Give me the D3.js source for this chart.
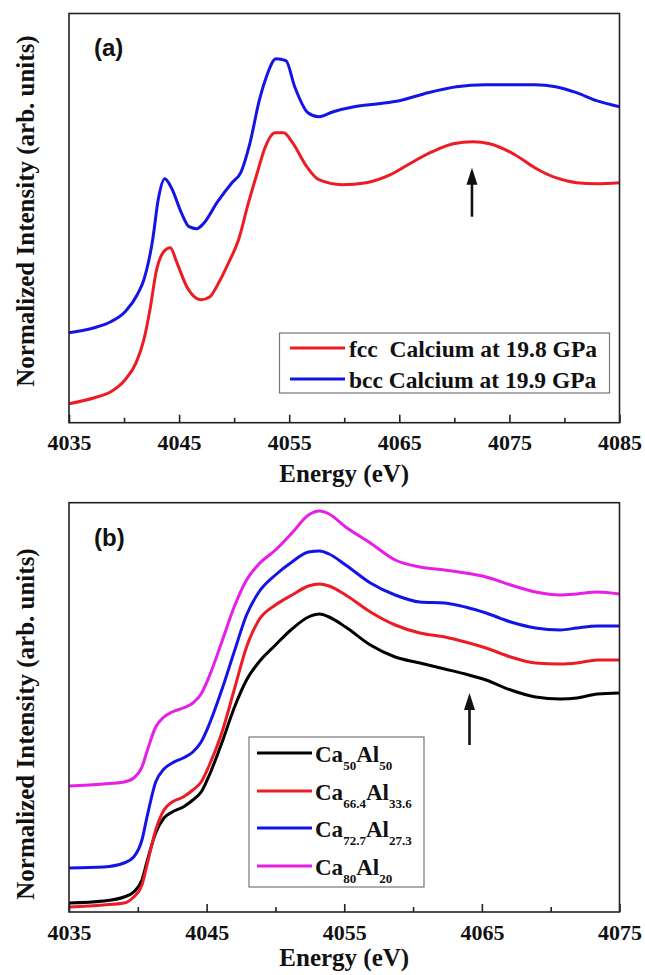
<!DOCTYPE html>
<html>
<head>
<meta charset="utf-8">
<script src="https://cdn.jsdelivr.net/npm/d3@7/dist/d3.min.js"></script>
<style>
  html, body { margin: 0; padding: 0; background: #fff; }
  svg { display: block; }
  .serif { font-family: "Liberation Serif", "Times New Roman", Times, "DejaVu Serif", serif; font-weight: bold; }
  .sans { font-family: "Liberation Sans", Arial, Helvetica, sans-serif; font-weight: bold; }
</style>
</head>
<body>
<svg id="chart" width="645" height="975"></svg>
<script>
// ---------------- DATA ----------------
// Panel (a): energy (eV) and normalized intensity (arb. units)
const aFccEnergy = [4035, 4037.3, 4038.8, 4040.1, 4041.1, 4041.8, 4042.4, 4042.9, 4043.6, 4044.2, 4044.8, 4045.7, 4046.5, 4047.0, 4047.8, 4048.5, 4049.5, 4050.4, 4051.3, 4052.1, 4052.8, 4053.7, 4054.5, 4055.3, 4056.6, 4057.7, 4059.8, 4062.0, 4064.2, 4066.1, 4068.0, 4069.9, 4071.7, 4073.2, 4075.5, 4077.3, 4079.2, 4081.1, 4082.9, 4085];
const aFccValues = [0.19, 0.25, 0.31, 0.43, 0.60, 0.83, 1.16, 1.50, 1.71, 1.75, 1.60, 1.36, 1.25, 1.23, 1.26, 1.38, 1.60, 1.83, 2.20, 2.50, 2.75, 2.90, 2.90, 2.80, 2.56, 2.43, 2.38, 2.40, 2.48, 2.60, 2.71, 2.79, 2.81, 2.79, 2.68, 2.55, 2.45, 2.40, 2.39, 2.40];

const aBccEnergy = [4035, 4037.3, 4038.8, 4040.1, 4041.2, 4041.8, 4042.6, 4043.1, 4043.7, 4044.3, 4045.2, 4045.9, 4046.6, 4047.2, 4048.5, 4049.8, 4050.6, 4051.4, 4052.3, 4052.9, 4053.8, 4054.7, 4055.5, 4056.7, 4057.7, 4059.0, 4060.9, 4063.1, 4065.0, 4067.6, 4070.2, 4072.8, 4077.3, 4079.2, 4081.1, 4082.9, 4085];
const aBccValues = [0.90, 0.95, 1.01, 1.11, 1.28, 1.43, 1.83, 2.23, 2.44, 2.35, 2.10, 1.96, 1.94, 1.99, 2.21, 2.40, 2.50, 2.78, 3.23, 3.45, 3.64, 3.62, 3.36, 3.10, 3.06, 3.11, 3.16, 3.19, 3.22, 3.30, 3.36, 3.38, 3.38, 3.36, 3.30, 3.22, 3.16];

const aSeriesNames = ["fcc  Calcium at 19.8 GPa", "bcc Calcium at 19.9 GPa"];
const aColors = ["#ec1c24", "#1414e6"];

// Panel (b)
const bEnergy = [4035, 4037.5, 4039.0, 4039.7, 4040.3, 4040.7, 4041.3, 4041.9, 4042.5, 4043.3, 4044.0, 4044.6, 4045.2, 4046.1, 4047.0, 4047.9, 4048.8, 4050.0, 4051.2, 4052.4, 4053.2, 4053.9, 4055.1, 4056.9, 4058.7, 4060.5, 4062.3, 4063.8, 4065.3, 4067.1, 4068.9, 4070.7, 4071.9, 4073.4, 4075];
const bCa50 = [0.09, 0.11, 0.15, 0.20, 0.32, 0.52, 0.79, 0.94, 1.00, 1.05, 1.12, 1.20, 1.37, 1.69, 2.04, 2.32, 2.50, 2.67, 2.83, 2.95, 2.98, 2.95, 2.85, 2.67, 2.55, 2.49, 2.43, 2.38, 2.32, 2.22, 2.15, 2.13, 2.14, 2.18, 2.19];
const bCa66 = [0.05, 0.07, 0.09, 0.15, 0.27, 0.49, 0.82, 1.02, 1.10, 1.15, 1.22, 1.30, 1.47, 1.79, 2.22, 2.65, 2.92, 3.07, 3.17, 3.26, 3.28, 3.26, 3.17, 3.00, 2.87, 2.79, 2.75, 2.70, 2.64, 2.55, 2.49, 2.48, 2.49, 2.52, 2.52];
const bCa72 = [0.44, 0.45, 0.49, 0.55, 0.72, 0.97, 1.30, 1.43, 1.49, 1.54, 1.60, 1.70, 1.88, 2.22, 2.60, 2.97, 3.20, 3.37, 3.50, 3.60, 3.61, 3.58, 3.47, 3.29, 3.17, 3.10, 3.09, 3.05, 2.99, 2.90, 2.84, 2.82, 2.84, 2.86, 2.86];
const bCa80 = [1.26, 1.28, 1.30, 1.34, 1.45, 1.62, 1.85, 1.95, 2.00, 2.04, 2.09, 2.18, 2.36, 2.70, 3.05, 3.32, 3.48, 3.62, 3.79, 3.97, 4.01, 3.98, 3.85, 3.69, 3.52, 3.45, 3.42, 3.39, 3.35, 3.27, 3.20, 3.17, 3.18, 3.20, 3.18];

const bSeriesNames = [["50", "50"], ["66.4", "33.6"], ["72.7", "27.3"], ["80", "20"]];
const bColors = ["#000000", "#ec1c24", "#1414e6", "#e61ee6"];

// tick labels
const aTicks = [4035, 4045, 4055, 4065, 4075, 4085];
const aMinorTicks = [4040, 4050, 4060, 4070, 4080];
const bTicks = [4035, 4045, 4055, 4065, 4075];
const bMinorTicks = [4040, 4050, 4060, 4070];

// arrows (energy, tail value, tip value)
const aArrow = [4071.6, 2.06, 2.55];
const bArrow = [4064.1, 1.67, 2.19];

const xLabel = "Energy (eV)";
const yLabel = "Normalized Intensity (arb. units)";

// ---------------- DRAW ----------------
const svg = d3.select("#chart");

function panel(cfg) {
  const x = d3.scaleLinear().domain(cfg.xDomain).range([cfg.left, cfg.right]);
  const y = d3.scaleLinear().domain([0, cfg.yMax]).range([cfg.bottom, cfg.top]);
  const g = svg.append("g");

  const line = d3.line().x(d => x(d[0])).y(d => y(d[1])).curve(d3.curveMonotoneX);
  cfg.series.forEach(s => {
    g.append("path")
      .datum(d3.zip(s.energy, s.values))
      .attr("d", line)
      .attr("fill", "none")
      .attr("stroke", s.color)
      .attr("stroke-width", 3)
      .attr("stroke-linejoin", "round");
  });

  // frame
  g.append("rect")
    .attr("x", cfg.left).attr("y", cfg.top)
    .attr("width", cfg.right - cfg.left).attr("height", cfg.bottom - cfg.top)
    .attr("fill", "none").attr("stroke", "#222").attr("stroke-width", 1.6);

  // major ticks + labels
  const ax = g.append("g").attr("transform", `translate(0,${cfg.bottom})`)
    .call(d3.axisBottom(x).tickValues(cfg.ticks).tickFormat(d3.format("d")).tickSizeInner(-8).tickSizeOuter(0));
  ax.attr("font-family", null).attr("font-size", null);
  ax.select(".domain").remove();
  ax.selectAll(".tick line").attr("stroke", "#222").attr("stroke-width", 1.6);
  ax.selectAll(".tick text")
    .attr("class", "serif").style("font-size", "22px")
    .attr("fill", "#111").attr("dy", null).attr("y", cfg.tickBaseline - cfg.bottom);

  const mx = g.append("g").attr("transform", `translate(0,${cfg.bottom})`)
    .call(d3.axisBottom(x).tickValues(cfg.minor).tickFormat("").tickSizeInner(-5).tickSizeOuter(0));
  mx.select(".domain").remove();
  mx.selectAll(".tick line").attr("stroke", "#222").attr("stroke-width", 1.6);

  // axis titles
  g.append("text")
    .attr("class", "serif").style("font-size", "25px")
    .attr("x", (cfg.left + cfg.right) / 2).attr("y", cfg.xTitleBaseline)
    .attr("text-anchor", "middle")
    .attr("fill", "#111").text(xLabel);
  g.append("text")
    .attr("class", "serif").style("font-size", "25px")
    .attr("transform", `translate(${33.5},${cfg.yTitleCenter}) rotate(-90)`)
    .attr("text-anchor", "middle")
    .attr("fill", "#111").text(yLabel);

  // panel label
  g.append("text")
    .attr("class", "sans").style("font-size", "24px")
    .attr("x", cfg.left + 25).attr("y", cfg.top + cfg.labelDy)
    .attr("fill", "#111").text(cfg.label);

  // arrow
  const ax0 = x(cfg.arrow[0]), yTail = y(cfg.arrow[1]), yTip = y(cfg.arrow[2]);
  g.append("line")
    .attr("x1", ax0).attr("x2", ax0).attr("y1", yTail).attr("y2", yTip + 14)
    .attr("stroke", "#111").attr("stroke-width", 2.6);
  g.append("path")
    .attr("d", `M${ax0},${yTip} L${ax0 - 5.5},${yTip + 17} L${ax0 + 5.5},${yTip + 17} Z`)
    .attr("fill", "#111");

  return { x, y, g };
}

// Panel (a)
panel({
  xDomain: [4035, 4085], left: 69, right: 619.5, top: 13.5, bottom: 422.7, yMax: 4.092,
  series: [
    { energy: aFccEnergy, values: aFccValues, color: aColors[0] },
    { energy: aBccEnergy, values: aBccValues, color: aColors[1] }
  ],
  ticks: aTicks, minor: aMinorTicks, tickBaseline: 450, xTitleBaseline: 482,
  yTitleCenter: 211, label: "(a)", labelDy: 42.5, arrow: aArrow
});

// Legend (a)
{
  const lg = svg.append("g");
  lg.append("rect").attr("x", 279.5).attr("y", 333).attr("width", 330).attr("height", 60)
    .attr("fill", "#fff").attr("stroke", "#777").attr("stroke-width", 1.2);
  const rowsY = [348, 379];
  aSeriesNames.forEach((name, i) => {
    lg.append("line").attr("x1", 290).attr("x2", 345).attr("y1", rowsY[i]).attr("y2", rowsY[i])
      .attr("stroke", aColors[i]).attr("stroke-width", 3);
    lg.append("text").attr("class", "serif").style("font-size", "23.5px")
      .attr("x", 349).attr("y", rowsY[i] + 9)
      .attr("fill", "#111").style("white-space", "pre").text(name);
  });
}

// Panel (b)
panel({
  xDomain: [4035, 4075], left: 69, right: 619.5, top: 502.7, bottom: 912, yMax: 4.093,
  series: [
    { energy: bEnergy, values: bCa50, color: bColors[0] },
    { energy: bEnergy, values: bCa66, color: bColors[1] },
    { energy: bEnergy, values: bCa72, color: bColors[2] },
    { energy: bEnergy, values: bCa80, color: bColors[3] }
  ],
  ticks: bTicks, minor: bMinorTicks, tickBaseline: 940, xTitleBaseline: 966,
  yTitleCenter: 724, label: "(b)", labelDy: 43, arrow: bArrow
});

// Legend (b)
{
  const lg = svg.append("g");
  lg.append("rect").attr("x", 249).attr("y", 737).attr("width", 175).attr("height", 150)
    .attr("fill", "#fff").attr("stroke", "#777").attr("stroke-width", 1.2);
  const rowsY = [753, 791, 828, 866];
  bSeriesNames.forEach((sub, i) => {
    lg.append("line").attr("x1", 257).attr("x2", 312).attr("y1", rowsY[i]).attr("y2", rowsY[i])
      .attr("stroke", bColors[i]).attr("stroke-width", 3);
    const t = lg.append("text").attr("class", "serif").style("font-size", "23px")
      .attr("x", 315).attr("y", rowsY[i] + 9).attr("fill", "#111");
    t.append("tspan").text("Ca");
    t.append("tspan").attr("dy", 8).style("font-size", "13px").text(sub[0]);
    t.append("tspan").attr("dy", -8).text("Al");
    t.append("tspan").attr("dy", 8).style("font-size", "13px").text(sub[1]);
  });
}
</script>
</body>
</html>
